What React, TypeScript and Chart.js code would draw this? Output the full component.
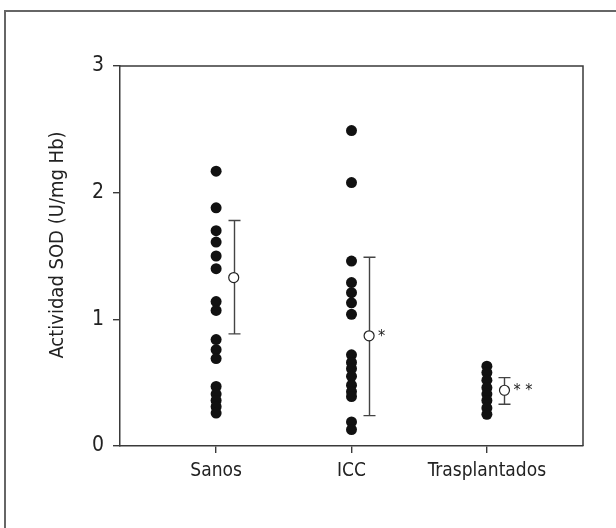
import React, { useEffect, useRef } from "react";
import { Chart, registerables } from "chart.js";

Chart.register(...registerables);

const categories = ["Sanos", "ICC", "Trasplantados"];
const sanos = [2.17, 1.88, 1.7, 1.61, 1.5, 1.4, 1.14, 1.07, 0.84, 0.76, 0.69, 0.47, 0.41, 0.36, 0.31, 0.26];
const icc = [2.49, 2.08, 1.46, 1.29, 1.21, 1.13, 1.04, 0.72, 0.66, 0.61, 0.55, 0.48, 0.43, 0.39, 0.19, 0.13];
const trasplantados = [0.63, 0.58, 0.52, 0.46, 0.41, 0.36, 0.3, 0.25];
const means = [1.33, 0.87, 0.44];
const errLow = [0.885, 0.24, 0.33];
const errHigh = [1.78, 1.49, 0.54];
const marks = ["", "*", "* *"];
const yTicks = [0, 1, 2, 3];
const yTitle = "Actividad SOD (U/mg Hb)";

const FONT = "'Liberation Sans Narrow', 'DejaVu Sans Condensed', 'Liberation Sans', Arial, sans-serif";
const INK = "#222";
const LINE = "#3a3a3a";
const MEAN_OFFSET = 0.13;

const groups = [sanos, icc, trasplantados];

const decor = {
  id: "decor",
  beforeDatasetsDraw(chart: any) {
    const { ctx, scales } = chart;
    const x = scales.x;
    const y = scales.y;
    ctx.save();
    ctx.strokeStyle = "#444";
    ctx.lineWidth = 1.4;
    means.forEach((m, i) => {
      const px = Math.round(x.getPixelForValue(i + 1 + MEAN_OFFSET)) + 0.5;
      const top = y.getPixelForValue(errHigh[i]);
      const bot = y.getPixelForValue(errLow[i]);
      ctx.beginPath();
      ctx.moveTo(px, top);
      ctx.lineTo(px, bot);
      ctx.moveTo(px - 6, top);
      ctx.lineTo(px + 6, top);
      ctx.moveTo(px - 6, bot);
      ctx.lineTo(px + 6, bot);
      ctx.stroke();
    });
    ctx.restore();
  },
  afterDraw(chart: any) {
    const { ctx, scales, chartArea } = chart;
    const x = scales.x;
    const y = scales.y;
    ctx.save();
    // plot frame (top and right)
    ctx.strokeStyle = LINE;
    ctx.lineWidth = 1.5;
    ctx.beginPath();
    ctx.moveTo(chartArea.left, chartArea.top);
    ctx.lineTo(chartArea.right, chartArea.top);
    ctx.lineTo(chartArea.right, chartArea.bottom);
    ctx.stroke();
    // outer figure frame
    ctx.strokeStyle = "#666";
    ctx.lineWidth = 2;
    ctx.beginPath();
    ctx.moveTo(5, chart.height);
    ctx.lineTo(5, 11);
    ctx.lineTo(chart.width, 11);
    ctx.stroke();
    // y axis title
    ctx.fillStyle = INK;
    ctx.font = "20px " + FONT;
    ctx.textAlign = "center";
    ctx.textBaseline = "middle";
    ctx.save();
    ctx.translate(58, 245);
    ctx.rotate(-Math.PI / 2);
    ctx.fillText(yTitle, 0, 0);
    ctx.restore();
    // significance marks
    ctx.font = "16px " + FONT;
    ctx.textBaseline = "middle";
    ctx.textAlign = "left";
    marks.forEach((mk, i) => {
      if (!mk) return;
      const px = x.getPixelForValue(i + 1 + MEAN_OFFSET);
      const py = y.getPixelForValue(means[i]);
      ctx.fillText(mk, px + 9, py + 1);
    });
    ctx.restore();
  },
};

export default function App() {
  const ref = useRef<HTMLCanvasElement | null>(null);
  useEffect(() => {
    if (!ref.current) return;
    const dotSets = groups.map((vals, i) => ({
      type: "scatter" as const,
      label: categories[i],
      data: vals.map((v) => ({ x: i + 1, y: v })),
      pointRadius: 5.5,
      pointBackgroundColor: "#111",
      pointBorderColor: "#111",
      pointBorderWidth: 0,
      showLine: false,
    }));
    const meanSet = {
      type: "scatter" as const,
      label: "Media",
      data: means.map((m, i) => ({ x: i + 1 + MEAN_OFFSET, y: m })),
      pointRadius: 5,
      pointBackgroundColor: "#fff",
      pointBorderColor: "#222",
      pointBorderWidth: 1.2,
      showLine: false,
    };
    const chart = new Chart(ref.current, {
      type: "scatter",
      data: { datasets: [...dotSets, meanSet] as any },
      plugins: [decor],
      options: {
        animation: false,
        responsive: false,
        events: [],
        layout: { padding: { left: 0, top: 66, right: 33, bottom: 0 } },
        plugins: { legend: { display: false }, tooltip: { enabled: false } },
        scales: {
          x: {
            type: "linear",
            min: 0.29,
            max: 3.71,
            afterBuildTicks: (s: any) => {
              s.ticks = categories.map((_, i) => ({ value: i + 1 }));
            },
            afterFit: (s: any) => {
              s.height = 82;
            },
            ticks: {
              autoSkip: false,
              maxRotation: 0,
              padding: 7,
              color: INK,
              font: { family: FONT, size: 19 },
              callback: (v: any) => categories[Number(v) - 1] ?? "",
            },
            grid: { drawOnChartArea: false, drawTicks: true, tickLength: 7, color: LINE, lineWidth: 1.4 },
            border: { display: true, color: LINE, width: 1.5 },
          },
          y: {
            type: "linear",
            min: 0,
            max: 3,
            afterBuildTicks: (s: any) => {
              s.ticks = yTicks.map((v) => ({ value: v }));
            },
            afterFit: (s: any) => {
              s.width = 120;
            },
            ticks: {
              padding: 9,
              color: INK,
              font: { family: FONT, size: 21 },
            },
            grid: { drawOnChartArea: false, drawTicks: true, tickLength: 7, color: LINE, lineWidth: 1.4 },
            border: { display: true, color: LINE, width: 1.5 },
          },
        },
      },
    });
    return () => chart.destroy();
  }, []);
  return (
    <div style={{ position: "absolute", left: 0, top: 0, width: 616, height: 528, background: "#fff" }}>
      <canvas ref={ref} width={616} height={528} />
    </div>
  );
}
